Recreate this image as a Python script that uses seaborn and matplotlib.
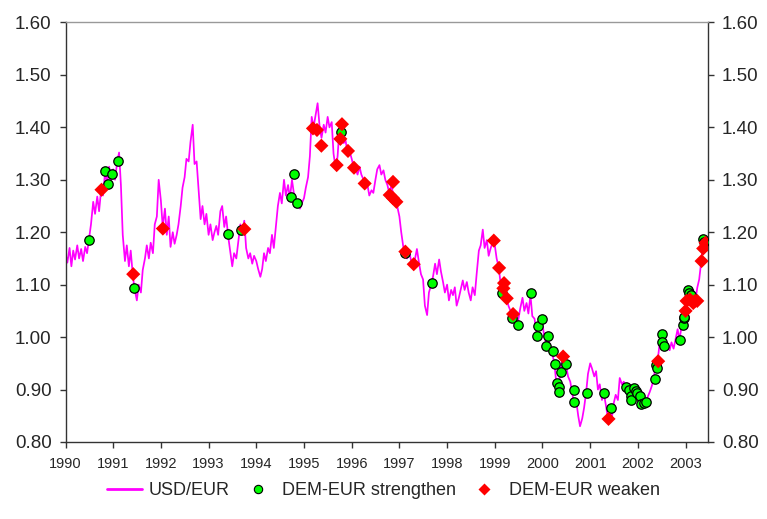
import numpy as np
import pandas as pd
import matplotlib
matplotlib.use("Agg")
import matplotlib.pyplot as plt
from matplotlib.lines import Line2D
import seaborn as sns

# USD/EUR exchange rate, semi-monthly readings (1st and 15th), one list per year
usd_eur_1990 = [1.160, 1.142, 1.170, 1.135, 1.165, 1.148, 1.175, 1.150, 1.168, 1.145, 1.172, 1.160,
                1.190, 1.215, 1.258, 1.235, 1.268, 1.240, 1.282, 1.270, 1.318, 1.290, 1.325, 1.300]
usd_eur_1991 = [1.320, 1.300, 1.335, 1.352, 1.290, 1.195, 1.145, 1.175, 1.135, 1.165, 1.115, 1.090,
                1.070, 1.100, 1.085, 1.128, 1.150, 1.175, 1.150, 1.180, 1.160, 1.215, 1.230, 1.300]
usd_eur_1992 = [1.260, 1.210, 1.245, 1.195, 1.230, 1.172, 1.200, 1.178, 1.195, 1.215, 1.250, 1.285,
                1.305, 1.340, 1.335, 1.372, 1.405, 1.330, 1.335, 1.285, 1.225, 1.250, 1.215, 1.235]
usd_eur_1993 = [1.195, 1.215, 1.185, 1.200, 1.212, 1.195, 1.240, 1.250, 1.210, 1.230, 1.190, 1.165,
                1.135, 1.160, 1.150, 1.180, 1.215, 1.200, 1.222, 1.170, 1.150, 1.160, 1.140, 1.155]
usd_eur_1994 = [1.145, 1.130, 1.115, 1.130, 1.160, 1.145, 1.170, 1.160, 1.195, 1.170, 1.215, 1.250,
                1.275, 1.255, 1.300, 1.270, 1.290, 1.265, 1.300, 1.275, 1.255, 1.260, 1.245, 1.255]
usd_eur_1995 = [1.265, 1.285, 1.305, 1.345, 1.420, 1.400, 1.425, 1.446, 1.400, 1.380, 1.405, 1.390,
                1.420, 1.400, 1.410, 1.350, 1.320, 1.345, 1.405, 1.395, 1.370, 1.375, 1.350, 1.355]
usd_eur_1996 = [1.340, 1.325, 1.320, 1.310, 1.325, 1.310, 1.300, 1.285, 1.290, 1.270, 1.280, 1.275,
                1.300, 1.320, 1.328, 1.310, 1.318, 1.300, 1.290, 1.275, 1.290, 1.270, 1.258, 1.250]
usd_eur_1997 = [1.230, 1.200, 1.170, 1.162, 1.150, 1.165, 1.145, 1.140, 1.150, 1.168, 1.140, 1.120,
                1.110, 1.060, 1.042, 1.085, 1.100, 1.115, 1.140, 1.120, 1.148, 1.125, 1.105, 1.085]
usd_eur_1998 = [1.100, 1.070, 1.090, 1.080, 1.095, 1.060, 1.075, 1.090, 1.108, 1.090, 1.105, 1.085,
                1.070, 1.095, 1.080, 1.120, 1.165, 1.175, 1.205, 1.170, 1.185, 1.155, 1.170, 1.180]
usd_eur_1999 = [1.175, 1.150, 1.132, 1.100, 1.095, 1.085, 1.075, 1.060, 1.050, 1.040, 1.030, 1.020,
                1.035, 1.055, 1.075, 1.050, 1.065, 1.045, 1.080, 1.040, 1.035, 1.010, 1.020, 1.030]
usd_eur_2000 = [1.025, 1.000, 0.985, 1.000, 0.975, 0.970, 0.950, 0.915, 0.900, 0.930, 0.960, 0.950,
                0.945, 0.925, 0.915, 0.895, 0.870, 0.880, 0.850, 0.830, 0.845, 0.865, 0.895, 0.930]
usd_eur_2001 = [0.950, 0.940, 0.925, 0.935, 0.900, 0.910, 0.880, 0.893, 0.870, 0.848, 0.860, 0.845,
                0.875, 0.890, 0.880, 0.922, 0.910, 0.915, 0.900, 0.895, 0.888, 0.900, 0.895, 0.890]
usd_eur_2002 = [0.885, 0.880, 0.872, 0.875, 0.878, 0.885, 0.895, 0.905, 0.918, 0.945, 0.955, 0.985,
                1.000, 0.985, 0.975, 0.985, 0.975, 0.990, 0.978, 0.995, 1.015, 0.995, 1.020, 1.038]
usd_eur_2003 = [1.050, 1.075, 1.085, 1.070, 1.090, 1.068, 1.095, 1.110, 1.145, 1.180, 1.165, 1.180]

# DEM-EUR strengthening events (decimal year, USD/EUR)
strengthen_t = [1990.489, 1990.818, 1990.896, 1990.980, 1991.106, 1991.441, 1993.405, 1993.686,
                1994.735, 1994.783, 1994.861, 1995.769, 1997.125, 1997.690, 1999.146, 1999.362,
                1999.476, 1999.755, 1999.887, 1999.916, 2000.000, 2000.069, 2000.118, 2000.210,
                2000.264, 2000.306, 2000.348, 2000.342, 2000.378, 2000.489, 2000.657, 2000.657,
                2000.923, 2001.292, 2001.426, 2001.741, 2001.810, 2001.852, 2001.858, 2001.921,
                2001.957, 2001.985, 2002.041, 2002.062, 2002.125, 2002.173, 2002.350, 2002.383,
                2002.398, 2002.497, 2002.497, 2002.551, 2002.887, 2002.937, 2002.958, 2002.964,
                2003.054, 2003.069, 2003.104, 2003.369, 2003.390]
strengthen_v = [1.185, 1.317, 1.292, 1.311, 1.335, 1.094, 1.197, 1.204,
                1.267, 1.311, 1.256, 1.391, 1.160, 1.104, 1.084, 1.036,
                1.024, 1.084, 1.003, 1.022, 1.034, 0.983, 1.003, 0.974,
                0.948, 0.912, 0.904, 0.895, 0.934, 0.948, 0.899, 0.876,
                0.893, 0.893, 0.865, 0.904, 0.899, 0.888, 0.881, 0.902,
                0.897, 0.893, 0.888, 0.872, 0.874, 0.877, 0.920, 0.946,
                0.942, 1.006, 0.991, 0.983, 0.994, 1.024, 1.037, 1.039,
                1.090, 1.085, 1.080, 1.187, 1.182]

# DEM-EUR weakening events (decimal year, USD/EUR)
weaken_t = [1990.755, 1991.420, 1992.041, 1993.749, 1995.188, 1995.272, 1995.364, 1995.685,
            1995.762, 1995.796, 1995.922, 1996.048, 1996.272, 1996.797, 1996.866, 1996.866,
            1996.937, 1997.125, 1997.300, 1998.979, 1999.090, 1999.180, 1999.194, 1999.250,
            1999.383, 2000.432, 2001.384, 2002.425, 2003.000, 2003.021, 2003.090, 2003.160,
            2003.195, 2003.244, 2003.335, 2003.369, 2003.418, 2003.439]
weaken_v = [1.281, 1.120, 1.207, 1.206, 1.398, 1.395, 1.365, 1.328,
            1.378, 1.406, 1.355, 1.323, 1.293, 1.271, 1.296, 1.265,
            1.258, 1.163, 1.139, 1.184, 1.132, 1.093, 1.103, 1.074,
            1.044, 0.963, 0.844, 0.954, 1.050, 1.069, 1.072, 1.065,
            1.069, 1.069, 1.145, 1.169, 1.180, 1.176]

years = list(range(1990, 2004))
year_labels = [str(y) for y in years]
y_ticks = [0.80, 0.90, 1.00, 1.10, 1.20, 1.30, 1.40, 1.50, 1.60]

sns.set_theme(style="ticks")
plt.rcParams["font.family"] = ["Liberation Sans", "DejaVu Sans"]

dates = pd.date_range("1990-01-01", "2003-06-15", freq="SMS")
frac = (dates.dayofyear - 1) / np.where(dates.is_leap_year, 366, 365)
rate = (usd_eur_1990 + usd_eur_1991 + usd_eur_1992 + usd_eur_1993 + usd_eur_1994 +
        usd_eur_1995 + usd_eur_1996 + usd_eur_1997 + usd_eur_1998 + usd_eur_1999 +
        usd_eur_2000 + usd_eur_2001 + usd_eur_2002 + usd_eur_2003)
df = pd.DataFrame({"t": dates.year + frac, "rate": rate})

fig = plt.figure(figsize=(7.67, 5.19), dpi=100)
ax = fig.add_axes([0.0854, 0.1484, 0.8377, 0.8083])

sns.lineplot(data=df, x="t", y="rate", color="#FF00FF", linewidth=1.25, ax=ax,
             legend=False, zorder=2)
sns.scatterplot(x=strengthen_t, y=strengthen_v, marker="o", s=46, color="#00FF00",
                edgecolor="black", linewidth=0.9, ax=ax, zorder=3, legend=False)
sns.scatterplot(x=weaken_t, y=weaken_v, marker="D", s=52, color="#FF0000",
                edgecolor="none", linewidth=0, ax=ax, zorder=4, legend=False)

ax.set_xlim(1990, 2003.47)
ax.set_ylim(0.80, 1.60)
ax.set_xticks(years)
ax.set_xticklabels(year_labels)
ax.set_yticks(y_ticks)
ax.set_yticklabels([f"{v:.2f}" for v in y_ticks])
ax.set_xlabel("")
ax.set_ylabel("")
ax.grid(False)

ax.tick_params(axis="y", left=True, right=True, labelleft=True, labelright=True,
               labelsize=13.5, length=4, width=1, direction="out", pad=6, color="#333333")
ax.tick_params(axis="x", labelsize=10.5, length=4, width=1, direction="out", pad=7,
               color="#333333")

for side in ["left", "right", "bottom"]:
    ax.spines[side].set_visible(True)
    ax.spines[side].set_color("#333333")
    ax.spines[side].set_linewidth(1.0)
ax.spines["top"].set_visible(True)
ax.spines["top"].set_color("#999999")
ax.spines["top"].set_linewidth(1.0)

handles = [
    Line2D([], [], color="#FF00FF", linewidth=2),
    Line2D([], [], linestyle="none", marker="o", markersize=6, markerfacecolor="#00FF00",
           markeredgecolor="black", markeredgewidth=0.8),
    Line2D([], [], linestyle="none", marker="D", markersize=6.5, markerfacecolor="#FF0000",
           markeredgecolor="none"),
]
labels = ["USD/EUR", "DEM-EUR strengthen", "DEM-EUR weaken"]
fig.legend(handles, labels, loc="center", bbox_to_anchor=(0.5, 0.054), ncol=3,
           frameon=False, fontsize=13, handlelength=1.9, handletextpad=0.4,
           columnspacing=0.6)

fig.savefig("out.png", dpi=100)
